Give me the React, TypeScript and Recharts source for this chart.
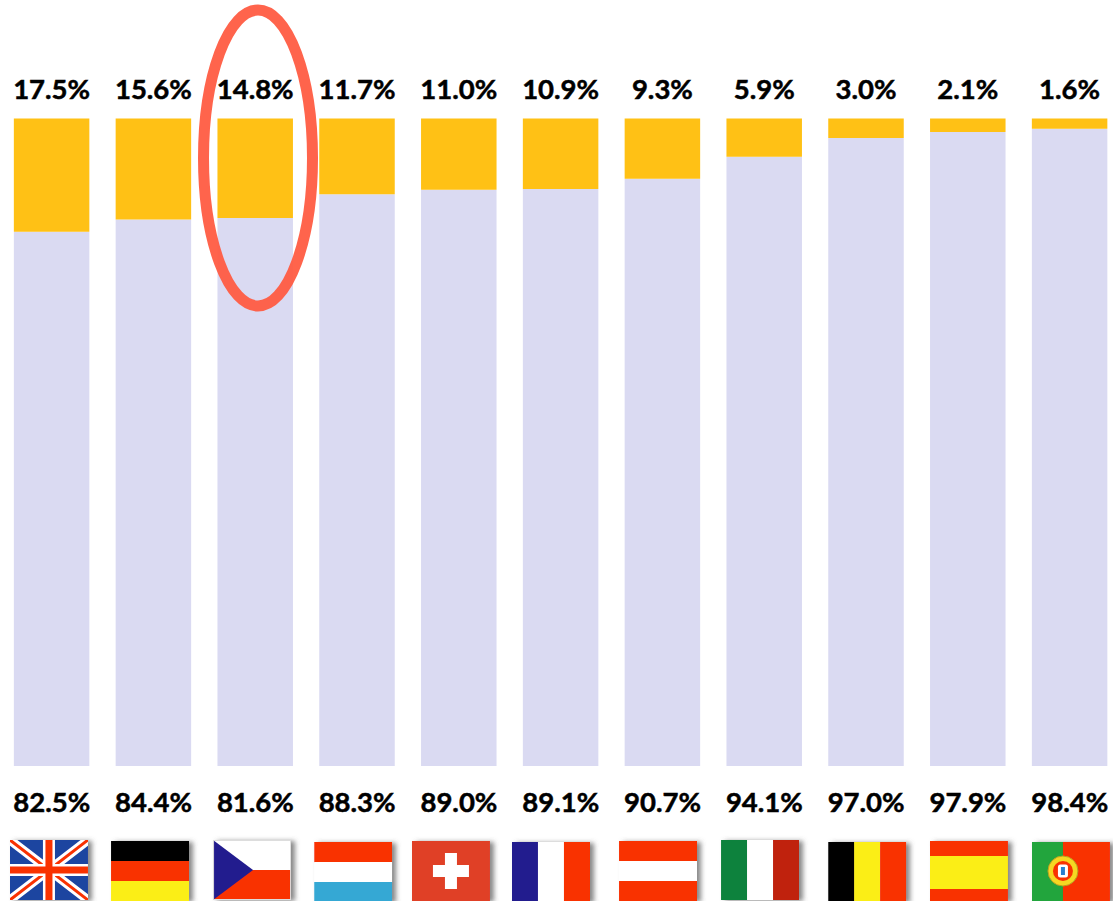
import { Bar, BarChart, LabelList, XAxis, YAxis } from "recharts";

const countries = ["UK", "DE", "CZ", "LU", "CH", "FR", "AT", "IT", "BE", "ES", "PT"];
const upperShare = [17.5, 15.6, 14.8, 11.7, 11.0, 10.9, 9.3, 5.9, 3.0, 2.1, 1.6];
const lowerShare = [82.5, 84.4, 81.6, 88.3, 89.0, 89.1, 90.7, 94.1, 97.0, 97.9, 98.4];

const chartData = countries.map((country, i) => ({
  country,
  upper: upperShare[i],
  lower: lowerShare[i],
}));

const labelStyle = {
  fontFamily: "Lato, sans-serif",
  fontWeight: 700,
  fontSize: 27.5,
  fill: "#000",
  stroke: "#000",
  strokeWidth: 0.5,
};

// flag placement: offset from the tick centre, and top edge
const flagSpot: Record<string, [number, number]> = {
  UK: [-41.8, 840],
  DE: [-42.5, 841],
  CZ: [-42.3, 840],
  LU: [-43, 842],
  CH: [-47, 841],
  FR: [-48.8, 842],
  AT: [-43.5, 841],
  IT: [-43.3, 840],
  BE: [-38, 842],
  ES: [-38, 841],
  PT: [-37.8, 842],
};

const RED = "#F93006";

function Stripes({ colors, vertical }: { colors: string[]; vertical?: boolean }) {
  const n = colors.length;
  return (
    <>
      {colors.map((c, i) =>
        vertical ? (
          <rect key={i} x={(78 / n) * i} y={0} width={78 / n + 0.3} height={60} fill={c} />
        ) : (
          <rect key={i} x={0} y={(60 / n) * i} width={78} height={60 / n + 0.3} fill={c} />
        ),
      )}
    </>
  );
}

function Flag({ code }: { code: string }) {
  switch (code) {
    case "UK":
      return (
        <>
          <rect width={78} height={60} fill="#1E44A0" />
          <path d="M0 0L78 60M78 0L0 60" stroke="#fff" strokeWidth={9} />
          <path d="M0 0L78 60M78 0L0 60" stroke={RED} strokeWidth={3} />
          <path d="M39 0V60M0 30H78" stroke="#fff" strokeWidth={12} />
          <path d="M39 0V60M0 30H78" stroke={RED} strokeWidth={7} />
        </>
      );
    case "DE":
      return <Stripes colors={["#000000", RED, "#FBEE16"]} />;
    case "CZ":
      return (
        <>
          <Stripes colors={["#FFFFFF", RED]} />
          <path d="M0 0L40 30L0 60Z" fill="#241C8E" />
          <rect x={0.5} y={0.5} width={77} height={59} fill="none" stroke="#ddd" />
        </>
      );
    case "LU":
      return <Stripes colors={[RED, "#FFFFFF", "#34A8D4"]} />;
    case "CH":
      return (
        <>
          <rect width={78} height={60} fill="#E04028" />
          <path d="M21 30H57M39 12V48" stroke="#fff" strokeWidth={12} />
        </>
      );
    case "FR":
      return <Stripes vertical colors={["#241C8E", "#FFFFFF", RED]} />;
    case "AT":
      return <Stripes colors={[RED, "#FFFFFF", RED]} />;
    case "IT":
      return <Stripes vertical colors={["#0F823C", "#FFFFFF", "#C0200C"]} />;
    case "BE":
      return <Stripes vertical colors={["#000000", "#FBEE16", RED]} />;
    case "ES":
      return (
        <>
          <rect width={78} height={60} fill={RED} />
          <rect y={15} width={78} height={33} fill="#FBEE16" />
        </>
      );
    case "PT":
      return (
        <>
          <rect width={78} height={60} fill={RED} />
          <rect width={31} height={60} fill="#20A53C" />
          <circle cx={31} cy={29} r={15} fill="#F5D820" stroke="#B8A020" strokeWidth={1} />
          <circle cx={31} cy={29} r={10} fill={RED} />
          <rect x={26} y={22.5} width={10} height={13} rx={2.5} fill="#fff" />
          <rect x={29} y={25} width={4} height={8} fill="#2B7FD0" />
        </>
      );
    default:
      return null;
  }
}

function CountryTick({ x, payload, index }: any) {
  const [dx, top] = flagSpot[payload.value];
  return (
    <g>
      <text x={x} y={812} textAnchor="middle" style={labelStyle}>
        {lowerShare[index].toFixed(1)}%
      </text>
      <g transform={`translate(${x + dx},${top})`}>
        <g filter="url(#flagShadow)">
          <g clipPath="url(#flagClip)">
            <Flag code={payload.value} />
          </g>
        </g>
      </g>
    </g>
  );
}

export default function App() {
  return (
    <div style={{ position: "absolute", left: 0, top: 0, width: 1113, height: 901, overflow: "hidden", background: "#fff" }}>
      <BarChart
        width={1121.5}
        height={901}
        data={chartData}
        stackOffset="expand"
        barSize={75.5}
        margin={{ top: 118.5, right: 0.85, bottom: 0, left: 0.85 }}
      >
        <defs>
          <filter id="flagShadow" x="-10%" y="-10%" width="125%" height="125%">
            <feDropShadow dx={4} dy={1} stdDeviation={2.5} floodColor="#555" floodOpacity={0.7} />
          </filter>
          <clipPath id="flagClip">
            <rect width={78} height={60} />
          </clipPath>
        </defs>
        <YAxis hide domain={[0, 1]} />
        <XAxis
          dataKey="country"
          height={135}
          interval={0}
          axisLine={false}
          tickLine={false}
          tick={<CountryTick />}
        />
        <Bar dataKey="lower" stackId="share" fill="#DADAF2" isAnimationActive={false} />
        <Bar dataKey="upper" stackId="share" fill="#FFC115" isAnimationActive={false}>
          <LabelList
            dataKey="upper"
            position="top"
            offset={20}
            formatter={(v: any) => `${Number(v).toFixed(1)}%`}
            style={labelStyle}
          />
        </Bar>
      </BarChart>
      {/* highlight ring sits above the bars, so it gets its own layer */}
      <svg width={1113} height={901} style={{ position: "absolute", left: 0, top: 0, pointerEvents: "none" }}>
        <ellipse cx={258} cy={158} rx={54.5} ry={148} fill="none" stroke="#FF5C42" strokeOpacity={0.95} strokeWidth={11} />
      </svg>
    </div>
  );
}
